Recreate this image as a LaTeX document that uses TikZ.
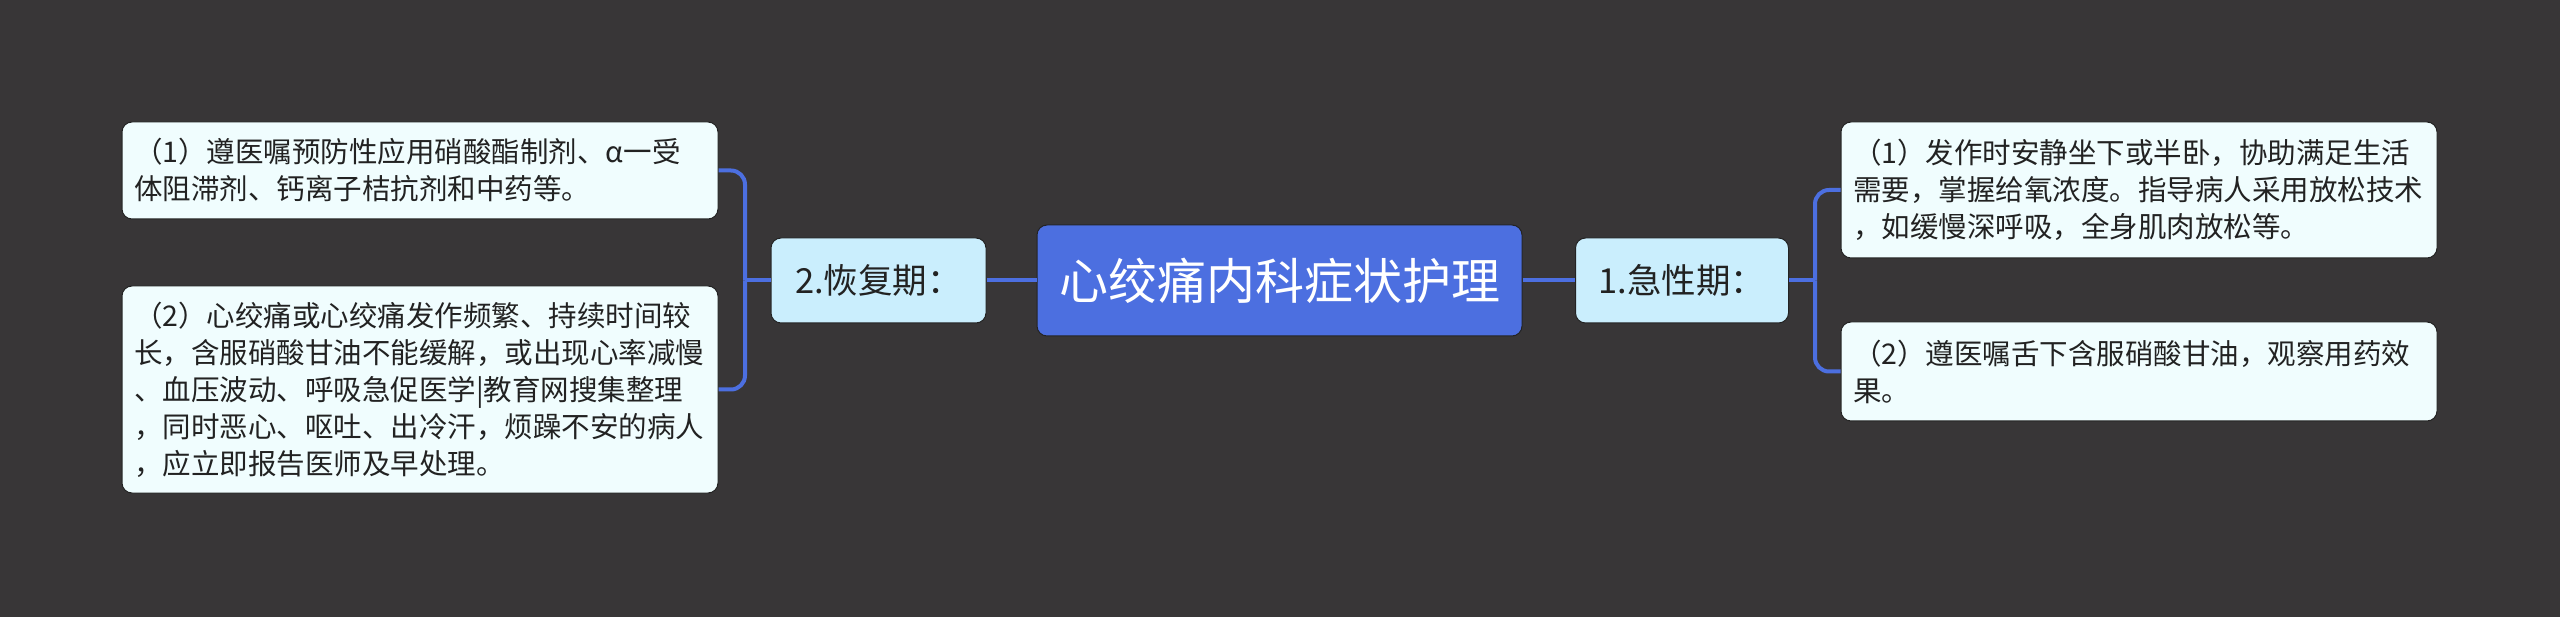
\documentclass[tikz,border=0pt]{standalone}
\usepackage{fontspec}
\setmainfont{Noto Sans CJK SC}
\definecolor{bg}{RGB}{56,54,55}
\definecolor{rootblue}{RGB}{76,111,224}
\definecolor{topicfill}{RGB}{202,238,253}
\definecolor{leaffill}{RGB}{240,253,254}
\definecolor{linec}{RGB}{76,111,224}
\definecolor{edgec}{RGB}{35,35,35}
\definecolor{txt}{RGB}{34,34,34}
\begin{document}
\begin{tikzpicture}[x=1pt,y=-1pt,
 root/.style={draw=edgec, line width=1pt, fill=rootblue, rounded corners=10pt, minimum width=485pt, minimum height=111pt, inner sep=0pt, text=white, font=\fontsize{49}{56}\selectfont},
 topic/.style={draw=edgec, line width=1pt, fill=topicfill, rounded corners=10pt, minimum width=213pt, minimum height=85pt, inner sep=0pt, text=txt, font=\fontsize{34.5}{40}\selectfont},
 leaf/.style={draw=edgec, line width=1pt, fill=leaffill, rounded corners=10pt, text width=572pt, inner xsep=12pt, inner ysep=0pt, align=left, text=txt, font=\fontsize{28.5}{37}\selectfont},
 conn/.style={draw=linec, line width=4pt, rounded corners=14pt}]
\useasboundingbox[fill=bg] (0,0) rectangle (2560,617);

\node[root] (root) at (1279.5,280.5) {心绞痛内科症状护理};
\node[topic, minimum width=215pt] (t2) at (878.5,280.5) {2.恢复期：};
\node[topic] (t1) at (1682,280.5) {1.急性期：};

\node[leaf, minimum height=97pt] (l1) at (420,170.5) {（1）遵医嘱预防性应用硝酸酯制剂、α一受\\体阻滞剂、钙离子桔抗剂和中药等。};
\node[leaf, minimum height=207pt] (l2) at (420,389.5) {（2）心绞痛或心绞痛发作频繁、持续时间较\\长，含服硝酸甘油不能缓解，或出现心率减慢\\、血压波动、呼吸急促医学|教育网搜集整理\\，同时恶心、呕吐、出冷汗，烦躁不安的病人\\，应立即报告医师及早处理。};
\node[leaf, minimum height=136pt] (r1) at (2139,190) {（1）发作时安静坐下或半卧，协助满足生活\\需要，掌握给氧浓度。指导病人采用放松技术\\，如缓慢深呼吸，全身肌肉放松等。};
\node[leaf, minimum height=99pt] (r2) at (2139,371.5) {（2）遵医嘱舌下含服硝酸甘油，观察用药效\\果。};

\coordinate (jr) at (1815,280.5);
\coordinate (jl) at (745,280.5);
\draw[conn] (root.east) -- (t1.west);
\draw[conn] (root.west) -- (t2.east);
\draw[conn] (t1.east) -- (jr);
\draw[conn] (jr) |- (r1.west);
\draw[conn] (jr) |- (r2.west);
\draw[conn] (t2.west) -- (jl);
\draw[conn] (jl) |- (l1.east);
\draw[conn] (jl) |- (l2.east);
\end{tikzpicture}
\end{document}
